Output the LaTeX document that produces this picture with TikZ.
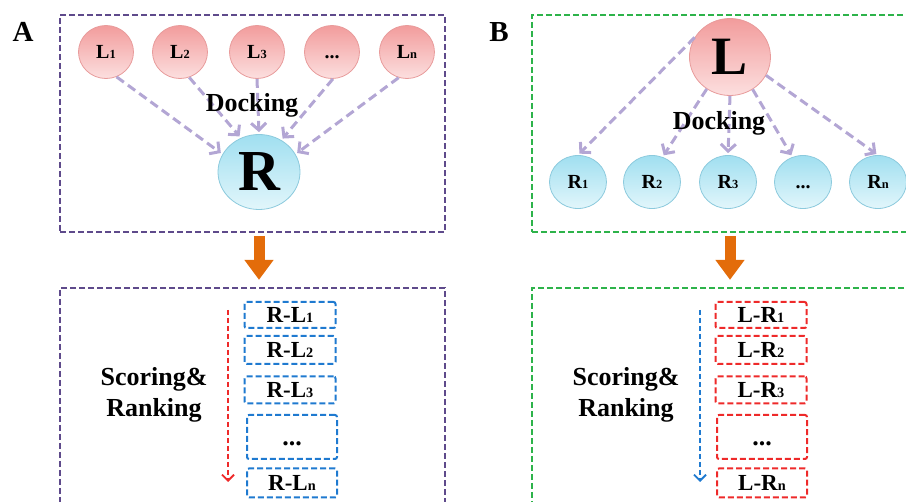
\documentclass[tikz,border=0pt]{standalone}
\usepackage{fontspec}
\setmainfont{Liberation Serif}
\usetikzlibrary{arrows.meta,shapes.geometric}
\definecolor{cPanelA}{HTML}{5E4A8B}
\definecolor{cPanelB}{HTML}{2DB34A}
\definecolor{cPinkTop}{HTML}{F29C9C}
\definecolor{cPinkBot}{HTML}{FCDFDF}
\definecolor{cPinkLine}{HTML}{E89B9B}
\definecolor{cCyanTop}{HTML}{A0DFF0}
\definecolor{cCyanBot}{HTML}{E2F6FB}
\definecolor{cCyanLine}{HTML}{8CCADD}
\definecolor{cDock}{HTML}{B3A6D4}
\definecolor{cOrange}{HTML}{E36C0A}
\definecolor{cBlueBox}{HTML}{1F7AD0}
\definecolor{cRedBox}{HTML}{EE2A2A}
\newcommand{\fs}[1]{\fontsize{#1}{#1}\selectfont\bfseries}
\newcommand{\sub}[1]{\scalebox{0.62}{#1}}

\begin{document}
\begin{tikzpicture}[
    x=1pt, y=-1pt,
    panel/.style={draw, rectangle, dash pattern=on 6pt off 3pt, line width=2.3pt, inner sep=0},
    ligand/.style={ellipse, draw=cPinkLine, line width=0.8pt, top color=cPinkTop, bottom color=cPinkBot, minimum width=55pt, minimum height=53pt, inner sep=0, font=\fs{20}},
    receptor/.style={ellipse, draw=cCyanLine, line width=0.8pt, top color=cCyanTop, bottom color=cCyanBot, minimum width=57pt, minimum height=53pt, inner sep=0, font=\fs{20}},
    dock/.style={draw=cDock, line width=3pt, dash pattern=on 9pt off 5pt, -{Straight Barb[length=7pt,width=15pt]}, shorten >=2pt},
    rank/.style={draw, rectangle, rounded corners=2pt, dash pattern=on 6pt off 3pt, line width=2pt, minimum width=91pt, minimum height=27pt, inner sep=0, font=\fs{23}},
    rankarr/.style={line width=1.8pt, dash pattern=on 5pt off 3pt, -{Straight Barb[length=6pt,width=12pt]}},
    bigarr/.style={draw=cOrange, line width=11pt, -{Triangle[length=20pt,width=28pt]}, shorten <=3pt, shorten >=7pt},
    lbl/.style={font=\fs{26}, align=center, inner sep=0}
]
\clip (0,0) rectangle (906,502);

\node[font=\fs{29}] (tagA) at (23,32) {A};
\node[font=\fs{29}] (tagB) at (499,32) {B};

% A: many ligands docked to one receptor
\node[panel, draw=cPanelA, minimum width=385pt, minimum height=217pt] (upA) at (252.5,123.5) {};
\node[ligand] (L1) at (106,52) {L\sub{1}};
\node[ligand] (L2) at (180,52) {L\sub{2}};
\node[ligand] (L3) at (257,52) {L\sub{3}};
\node[ligand] (Ld) at (332,52) {\vphantom{L}...};
\node[ligand] (Ln) at (407,52) {L\sub{n}};
\node[receptor, minimum width=82pt, minimum height=75pt, font=\fs{58}] (R) at (259,172) {R};

\draw[dock] (L1.-67) -- (R.154);
\draw[dock] (L2.-70) -- (R.118);
\draw[dock] (L3.south) -- (R.north);
\draw[dock] (Ld.-88) -- (R.55);
\draw[dock] (Ln.-108) -- (R.26);
\node[lbl, anchor=base] (dockA) at (252,112) {Docking};

% B: one ligand docked to many receptors
\node[panel, draw=cPanelB, minimum width=428pt, minimum height=217pt] (upB) at (746,123.5) {};
\node[ligand, minimum width=81pt, minimum height=77pt, font=\fs{54}] (L) at (730,57) {L};
\node[receptor] (R1) at (578,182) {R\sub{1}};
\node[receptor] (R2) at (652,182) {R\sub{2}};
\node[receptor] (R3) at (728,182) {R\sub{3}};
\node[receptor] (Rd) at (803,182) {\vphantom{R}...};
\node[receptor] (Rn) at (878,182) {R\sub{n}};

\draw[dock] (L.151) -- (R1.north);
\draw[dock] (L.-126) -- (R2.67);
\draw[dock] (L.south) -- (R3.north);
\draw[dock] (L.-55) -- (Rd.113);
\draw[dock] (L.-27) -- (Rn.north);
\node[lbl, anchor=base] (dockB) at (719,130) {Docking};

% ranking panels
\node[panel, draw=cPanelA, minimum width=385pt, minimum height=272pt] (lowA) at (252.5,424) {};
\node[panel, draw=cPanelB, minimum width=428pt, minimum height=272pt] (lowB) at (746,424) {};

\draw[bigarr] (R |- upA.south) -- (R |- lowA.north);
\draw[bigarr] (L |- upB.south) -- (L |- lowB.north);

\node[rank, draw=cBlueBox, minimum height=26pt] (RL1) at (290,315) {R-L\sub{1}};
\node[rank, draw=cBlueBox, minimum height=28pt] (RL2) at (290,350) {R-L\sub{2}};
\node[rank, draw=cBlueBox] (RL3) at (290,390) {R-L\sub{3}};
\node[rank, draw=cBlueBox, minimum width=90pt, minimum height=44pt, font=\fs{26}] (RLd) at (292,437) {\vphantom{R}...};
\node[rank, draw=cBlueBox, minimum width=90pt, minimum height=29pt] (RLn) at (292,483) {R-L\sub{n}};
\coordinate (topA) at (228,310);
\coordinate (botA) at (228,482);
\draw[rankarr, draw=cRedBox] (topA) -- (botA);
\node[lbl] (scoreA) at (154,395) {Scoring\&\\[5pt]Ranking};

\node[rank, draw=cRedBox, minimum height=26pt] (LR1) at (761,315) {L-R\sub{1}};
\node[rank, draw=cRedBox, minimum height=28pt] (LR2) at (761,350) {L-R\sub{2}};
\node[rank, draw=cRedBox] (LR3) at (761,390) {L-R\sub{3}};
\node[rank, draw=cRedBox, minimum width=90pt, minimum height=44pt, font=\fs{26}] (LRd) at (762,437) {\vphantom{R}...};
\node[rank, draw=cRedBox, minimum width=90pt, minimum height=29pt] (LRn) at (762,483) {L-R\sub{n}};
\coordinate (topB) at (700,310);
\coordinate (botB) at (700,482);
\draw[rankarr, draw=cBlueBox] (topB) -- (botB);
\node[lbl] (scoreB) at (626,395) {Scoring\&\\[5pt]Ranking};

\end{tikzpicture}
\end{document}
